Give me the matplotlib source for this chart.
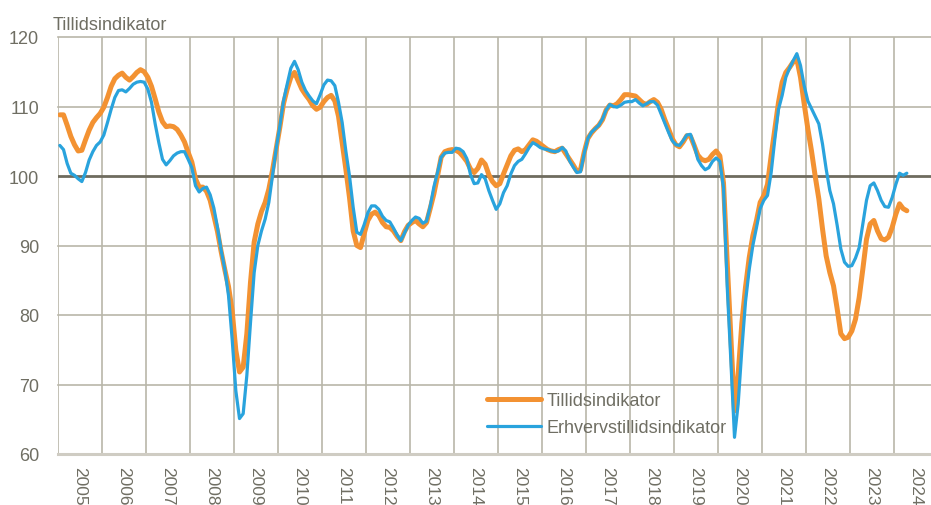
import matplotlib
matplotlib.use('Agg')
import matplotlib.pyplot as plt
import numpy as np

years = list(range(2005, 2025))
y_ticks = [60, 70, 80, 90, 100, 110, 120]

tillid = [
    108.8, 108.8, 107.3, 105.7, 104.5, 103.6, 103.7, 105.2, 106.6, 107.7, 108.4, 109.0,   # 2005
    109.9, 111.3, 112.9, 114.0, 114.5, 114.8, 114.2, 113.8, 114.3, 114.9, 115.3, 115.0,   # 2006
    114.2, 112.9, 111.1, 109.2, 107.8, 107.1, 107.2, 107.1, 106.7, 105.9, 104.9, 103.4,   # 2007
    102.0, 99.6, 98.4, 98.4, 97.8, 96.5, 94.3, 92.0, 89.1, 86.5, 84.1, 80.6,              # 2008
    74.9, 71.8, 72.5, 77.3, 84.7, 90.5, 93.1, 94.9, 96.2, 98.1, 100.8, 103.9,             # 2009
    107.0, 110.4, 112.5, 114.2, 114.9, 113.7, 112.5, 111.7, 111.0, 110.1, 109.6, 109.9,   # 2010
    110.7, 111.3, 111.6, 110.8, 108.6, 104.8, 101.0, 96.9, 92.1, 90.0, 89.7, 91.7,        # 2011
    93.6, 94.5, 94.8, 94.3, 93.3, 92.7, 92.6, 92.1, 91.3, 90.7, 92.0, 92.9,               # 2012
    93.3, 93.6, 93.1, 92.7, 93.3, 95.3, 97.4, 100.0, 102.7, 103.5, 103.7, 103.8,          # 2013
    103.7, 103.4, 102.8, 102.1, 101.0, 100.5, 101.1, 102.3, 101.7, 100.2, 99.2, 98.6,     # 2014
    98.9, 100.3, 101.6, 102.9, 103.7, 103.9, 103.5, 103.8, 104.5, 105.2, 105.0, 104.6,    # 2015
    104.2, 103.8, 103.6, 103.5, 103.8, 104.0, 103.2, 102.4, 101.6, 100.7, 100.9, 103.4,   # 2016
    105.4, 106.2, 106.8, 107.3, 108.1, 109.5, 110.2, 110.1, 110.4, 111.0, 111.7, 111.7,   # 2017
    111.6, 111.5, 111.0, 110.5, 110.3, 110.7, 111.0, 110.6, 109.6, 108.1, 106.8, 105.4,   # 2018
    104.5, 104.2, 104.9, 105.8, 105.7, 104.4, 103.0, 102.4, 102.2, 102.4, 103.1, 103.6,   # 2019
    102.9, 99.0, 87.7, 76.8, 66.2, 71.5, 78.8, 84.0, 88.2, 91.4, 93.6, 96.2,              # 2020
    97.2, 98.8, 102.9, 106.8, 110.6, 113.5, 114.9, 115.6, 116.4, 116.8, 114.2, 110.4,     # 2021
    106.8, 103.6, 100.0, 96.7, 92.4, 88.5, 86.1, 84.2, 80.9, 77.3, 76.6, 76.8,            # 2022
    77.7, 79.4, 82.5, 86.6, 90.9, 93.1, 93.6, 92.1, 91.0, 90.8, 91.2, 92.6,               # 2023
    94.5, 96.0, 95.3, 95.0,                                                              # 2024
]

erhverv = [
    104.4, 103.8, 101.8, 100.4, 100.1, 99.6, 99.2, 100.5, 102.3, 103.5, 104.4, 104.9,     # 2005
    105.9, 107.7, 109.6, 111.3, 112.3, 112.4, 112.1, 112.6, 113.2, 113.5, 113.6, 113.5,   # 2006
    112.5, 110.6, 107.5, 104.8, 102.4, 101.6, 102.2, 102.9, 103.3, 103.5, 103.5, 102.4,   # 2007
    101.2, 98.6, 97.7, 98.2, 98.4, 97.3, 95.4, 92.6, 89.3, 86.6, 82.8, 76.5,              # 2008
    69.1, 65.1, 65.8, 71.3, 78.9, 86.1, 90.0, 92.1, 93.8, 96.2, 100.0, 103.9,             # 2009
    107.2, 110.8, 113.2, 115.5, 116.5, 115.3, 113.5, 112.3, 111.5, 110.8, 110.4, 111.7,   # 2010
    113.1, 113.8, 113.7, 113.0, 110.6, 107.7, 103.6, 100.0, 95.5, 91.9, 91.6, 93.0,       # 2011
    94.7, 95.7, 95.7, 95.2, 94.2, 93.6, 93.4, 92.5, 91.5, 90.7, 91.8, 92.9,               # 2012
    93.6, 94.1, 93.9, 93.2, 93.5, 95.6, 98.4, 100.5, 102.7, 103.3, 103.4, 103.4,          # 2013
    104.0, 103.9, 103.5, 102.5, 100.2, 98.9, 99.0, 100.2, 99.6, 97.9, 96.5, 95.2,         # 2014
    96.0, 97.6, 98.6, 100.3, 101.5, 102.1, 102.4, 103.2, 104.1, 104.8, 104.5, 104.1,      # 2015
    103.9, 103.8, 103.6, 103.5, 103.6, 104.1, 103.6, 102.2, 101.3, 100.5, 100.6, 103.2,   # 2016
    105.4, 106.3, 106.8, 107.3, 108.2, 109.5, 110.3, 110.0, 109.9, 110.2, 110.6, 110.7,   # 2017
    110.7, 111.0, 110.5, 110.1, 110.4, 110.7, 110.7, 110.2, 108.9, 107.6, 106.3, 105.1,   # 2018
    104.5, 104.4, 105.1, 105.9, 106.0, 104.4, 102.4, 101.5, 100.9, 101.2, 102.1, 102.6,   # 2019
    102.1, 98.3, 84.2, 73.5, 62.4, 67.2, 75.0, 81.9, 86.5, 90.0, 92.6, 95.3,              # 2020
    96.5, 97.2, 100.5, 105.3, 109.6, 111.6, 114.2, 115.5, 116.6, 117.6, 115.9, 113.0,     # 2021
    110.8, 109.7, 108.6, 107.5, 104.6, 101.0, 97.9, 96.0, 92.9, 89.5, 87.6, 87.0,         # 2022
    87.1, 88.2, 89.7, 93.1, 96.5, 98.6, 99.0, 97.9, 96.5, 95.6, 95.5, 96.9,               # 2023
    98.8, 100.4, 100.1, 100.4,                                                           # 2024
]

series_names = ['Tillidsindikator', 'Erhvervstillidsindikator']
y_title = 'Tillidsindikator'

plt.rcParams['font.family'] = ['Liberation Sans', 'DejaVu Sans']

TXT = '#6F6E63'
GRID = '#B9B6A9'
ORANGE = '#F39232'
BLUE = '#29A3DD'
FS = 13

W, H = 931, 506
fig = plt.figure(figsize=(W / 100, H / 100), dpi=100)
ax = fig.add_axes([58 / W, 1 - 455 / H, (W - 58) / W, (455 - 38) / H])

n = len(tillid)
xpos = np.arange(n) + 0.5

ax.set_xlim(0, (W - 58) / (44 / 12))
ax.set_ylim(60, 120)

# grid
year_edges = [12 * k for k in range(len(years))]
for xe in year_edges:
    ax.axvline(xe, color=GRID, lw=1.2, zorder=1)
for yv in y_ticks:
    if yv == 100:
        ax.axhline(yv, color='#6E6B5E', lw=2.0, zorder=2)
    elif yv == 60:
        ax.axhline(yv, color='#CFCCC3', lw=2.2, zorder=2, clip_on=False)
    else:
        ax.axhline(yv, color=GRID, lw=1.2, zorder=1, clip_on=False)

ax.plot(xpos, tillid, color=ORANGE, lw=3.6, solid_capstyle='round',
        solid_joinstyle='round', label=series_names[0], zorder=3)
ax.plot(xpos, erhverv, color=BLUE, lw=2.3, solid_capstyle='round',
        solid_joinstyle='round', label=series_names[1], zorder=4)

for s in ax.spines.values():
    s.set_visible(False)

ax.set_yticks(y_ticks)
ax.set_yticklabels([str(v) for v in y_ticks])
ax.tick_params(axis='y', length=0, pad=13.5, labelsize=FS, labelcolor=TXT)

ax.set_xticks(year_edges)
ax.set_xticklabels([])
ax.set_xticks([12 * k + 6 for k in range(len(years))], minor=True)
ax.set_xticklabels([str(y) for y in years], minor=True, rotation=-90,
                   fontsize=12.5, color=TXT, ha='center', va='top')
ax.tick_params(axis='x', which='both', length=0)
ax.tick_params(axis='x', which='minor', pad=8.5)

fig.text(53 / W, 1 - 30 / H, y_title, ha='left', va='baseline',
         fontsize=FS, color=TXT)

leg = ax.legend(loc='center left', bbox_to_anchor=(487 / W, 1 - 415 / H),
                bbox_transform=fig.transFigure, frameon=False, fontsize=FS,
                handlelength=3.0, handletextpad=0.3, labelspacing=0.55,
                borderpad=0, borderaxespad=0)
for t in leg.get_texts():
    t.set_color(TXT)

fig.savefig('out.png', dpi=100)
